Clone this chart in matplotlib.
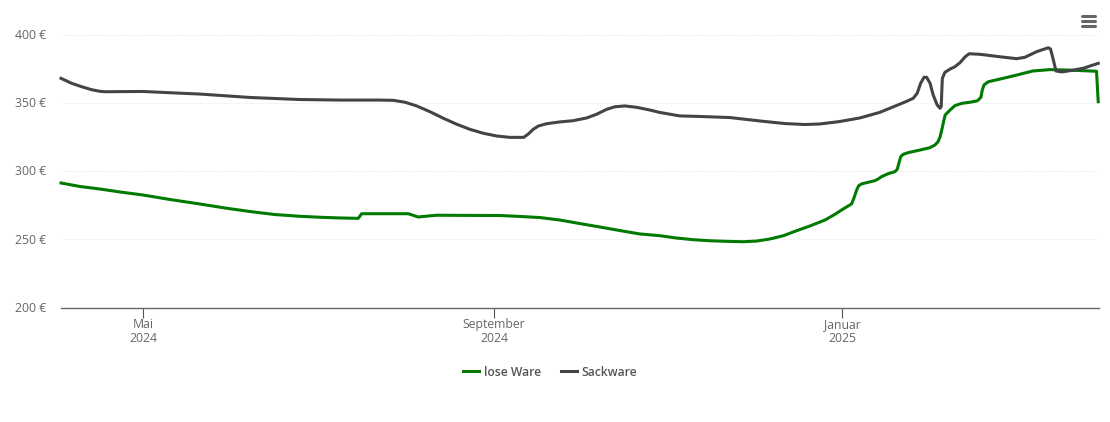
import matplotlib
matplotlib.use("Agg")
import matplotlib.pyplot as plt
import pandas as pd
from matplotlib.lines import Line2D
from matplotlib.transforms import ScaledTranslation

plt.rcParams['font.family'] = ['Open Sans', 'DejaVu Sans']

# days counted from 1 May 2024
start = pd.Timestamp("2024-05-01")

green_days = [-28.7, -22, -15.1, -8, 0, 9.5, 20, 28.7, 37.5, 46.2, 55, 62, 69, 75.4, 76, 76.6, 92.9, 94.7, 96.4, 98.8,
              102.9, 111, 125, 132, 139, 146, 153, 160, 167, 174, 181.1, 186.9, 192.7, 198.6, 204.4, 210.3, 215,
              219.6, 224.3, 229, 233.6, 238.9, 242.4, 245.3, 247.6, 248.2, 249, 250, 250.7, 251.7, 254, 256.4,
              257.5, 258.7, 261, 263.4, 264.2, 264.8, 265.4, 266.3, 268, 272.1, 275.6, 277.4, 278.5, 279.2, 279.8,
              280.4, 281, 282.7, 284.4, 286.8, 289.7, 292.3, 293.5, 294, 294.6, 296.1, 300.2, 304.7, 311.7, 317.7,
              323.5, 334, 334.6]
green_values = [291.3, 288.7, 286.9, 284.7, 282.5, 279.2, 275.9, 273, 270.4, 268.2, 266.9, 266.2, 265.7, 265.4, 267.1, 268.8, 268.8, 267.6, 266.4, 266.9,
                267.7, 267.6, 267.5, 266.8, 266, 264.2, 261.6, 259.1, 256.5, 254, 252.7, 251, 249.8, 249, 248.6, 248.3, 248.8,
                250.3, 252.7, 256.4, 259.8, 264.2, 268.4, 272.3, 275.2, 275.9, 280.1, 286.2, 289.3, 290.6, 291.8, 293,
                294.2, 295.9, 298.1, 299.6, 301.3, 305.9, 310.5, 312.3, 313.5, 315.4, 317.1, 319.1, 321.5, 325, 330.2,
                335.9, 341.1, 344.7, 347.9, 349.6, 350.4, 351.5, 354, 359.4, 363.1, 365.4, 367.4, 369.6, 373.3, 374.3,
                374, 373.1, 350.8]

gray_days = [-28.7, -25, -21.5, -18, -15.1, -13.3, 0, 11.2, 20, 37.5, 55, 69, 83, 87.7, 91.8, 95.9, 100.5, 105.2, 109.9,
             114.5, 119.2, 123.9, 128.5, 133.4, 135, 136.7, 138.5, 141.4, 146, 150.7, 155.4, 158.9, 162.4, 165.3,
             168.8, 172.9, 177.6, 180.9, 188, 195, 205.6, 216.1, 224.9, 231.9, 237.1, 244.1, 251.1, 258.1, 265.2,
             267.5, 269.8, 271.2, 272.4, 273.6, 274.5, 275.7, 276.8, 278.2, 279.2, 279.6, 280, 280.9, 282.7, 284.4,
             286.2, 288, 289.4, 293.2, 300.2, 306, 308.9, 313, 317.1, 317.9, 318.9, 319.8, 321.9, 324.7, 329.4, 334.6]
gray_values = [367.9, 364.3, 361.8, 359.6, 358.4, 358.1, 358.3, 357.2, 356.4, 353.9, 352.4, 352, 352, 351.8, 350.4, 347.7, 343.5, 338.7, 334.3,
               330.6, 327.7, 325.7, 324.7, 324.7, 327.2, 330.6, 333, 334.7, 336, 336.9, 338.9, 341.6, 345.2, 347.1,
               347.7, 346.7, 344.7, 343, 340.4, 340, 339.2, 336.7, 334.8, 334.1, 334.5, 336.3, 338.9, 343, 349.1,
               351.1, 353.3, 357, 364.3, 368.7, 368.7, 364.3, 355.7, 348.4, 346, 347.1, 367.9, 372.3, 374.7, 376.4,
               379.4, 383.7, 385.9, 385.5, 383.7, 382.3, 383.3, 387.4, 390.3, 389.4, 381.3, 373.3, 372.6, 373.5, 375.3, 378.9]

y_ticks = [200, 250, 300, 350, 400]
x_ticks = ["2024-05-01", "2024-09-01", "2025-01-01"]
x_labels = ["Mai\n2024", "September\n2024", "Januar\n2025"]

W, H = 1110, 422
fig = plt.figure(figsize=(W / 100, H / 100), dpi=100)
ax = fig.add_axes([61 / W, 1 - 307.7 / H, (1099 - 61) / W, (307.7 - 34.5) / H])

ax.plot(start + pd.to_timedelta(green_days, unit="D"), green_values, color="#007a00", lw=2.2,
        label="lose Ware", solid_joinstyle="round", clip_on=False, zorder=3)
ax.plot(start + pd.to_timedelta(gray_days, unit="D"), gray_values, color="#434348", lw=2.2,
        label="Sackware", solid_joinstyle="round", clip_on=False, zorder=4)

ax.set_xlim(pd.Timestamp("2024-04-02 07:00"), pd.Timestamp("2025-03-31 21:00"))
ax.set_ylim(200, 400)

ax.set_yticks(y_ticks)
ax.set_yticklabels([f"{v} €" for v in y_ticks])
ax.set_xticks(pd.to_datetime(x_ticks))
ax.set_xticklabels(x_labels, linespacing=1.13)
ax.tick_params(axis="y", length=0, pad=10.8, labelsize=8.8, labelcolor="#666666")
ax.tick_params(axis="x", length=7.2, width=0.8, color="#555555", pad=0, labelsize=8.8, labelcolor="#666666")

# y labels sit a little higher than the grid lines
for label in ax.get_yticklabels():
    label.set_transform(label.get_transform() + ScaledTranslation(0, 0.7 / 100, fig.dpi_scale_trans))

ax.grid(axis="y", color="#e6e6e6", lw=0.7, ls=(0, (1, 1.5)))
ax.set_axisbelow(True)
for side in ["top", "left", "right"]:
    ax.spines[side].set_visible(False)
ax.spines["bottom"].set_color("#666666")
ax.spines["bottom"].set_linewidth(1.0)

legend = ax.legend(loc="center", bbox_to_anchor=(550 / W, 1 - 372 / H), bbox_transform=fig.transFigure,
                   ncol=2, frameon=False, handlelength=1.33, handletextpad=0.42, columnspacing=1.65,
                   prop={"size": 8.7, "weight": 600})
for text in legend.get_texts():
    text.set_color("#555555")

# menu icon top right
for y in [16, 21, 26]:
    fig.add_artist(Line2D([1081.5 / W, 1095 / W], [1 - y / H, 1 - y / H], color="#666666", lw=2.2,
                          solid_capstyle="round"))

fig.savefig("out.png", dpi=100)
